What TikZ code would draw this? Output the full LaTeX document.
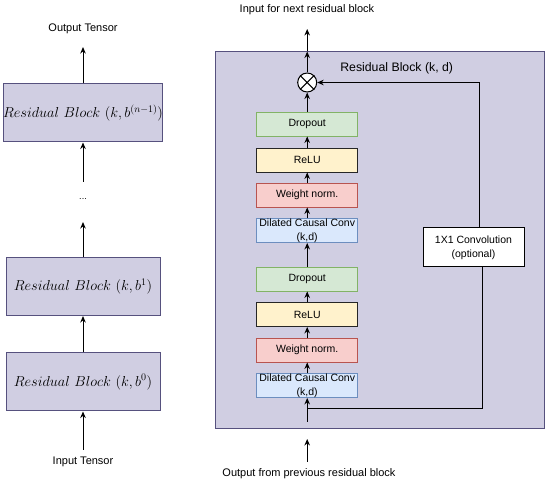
\documentclass[tikz,border=0pt]{standalone}
\usepackage{fontspec}
\newfontfamily\helv{Liberation Sans}
\usetikzlibrary{arrows.meta}

\definecolor{blockfill}{HTML}{D0CEE2}
\definecolor{blockline}{HTML}{56517E}
\definecolor{dropfill}{HTML}{D5E8D4}
\definecolor{dropline}{HTML}{82B366}
\definecolor{relufill}{HTML}{FFF2CC}
\definecolor{wnfill}{HTML}{F8CECC}
\definecolor{wnline}{HTML}{B85450}
\definecolor{convfill}{HTML}{DAE8FC}
\definecolor{convline}{HTML}{6C8EBF}

\tikzset{
  arr/.style={-{Stealth[length=6.5pt,width=5.5pt]},line width=1pt},
  txt/.style={font=\helv\fontsize{11}{13}\selectfont,inner sep=0pt},
  resblock/.style={draw=blockline,fill=blockfill,line width=1pt,minimum width=154pt,minimum height=58pt,inner sep=0pt,font=\fontsize{13.8}{15}\selectfont},
  layer/.style={line width=0.9pt,minimum width=101pt,minimum height=24pt,inner sep=0pt,align=center,font=\helv\fontsize{10.5}{14}\selectfont},
  dropbox/.style={layer,draw=dropline,fill=dropfill},
  relubox/.style={layer,draw=black!85,fill=relufill},
  wnbox/.style={layer,draw=wnline,fill=wnfill},
  convbox/.style={layer,draw=convline,fill=convfill},
}

\begin{document}
\begin{tikzpicture}[x=1pt,y=-1pt]
\useasboundingbox (0,0) rectangle (550,484);

% left: stack of residual blocks
\node[txt] (outT) at (83,29) {Output Tensor};
\node[resblock] (blk2) at (83,113) {$Residual\ Block\ (k, b^{(n-1)})$};
\node[txt,font=\helv\fontsize{9}{10}\selectfont] (dots) at (83,199) {...};
\node[resblock] (blk1) at (83,286.5) {$Residual\ Block\ (k, b^{1})$};
\node[resblock] (blk0) at (83,382) {$Residual\ Block\ (k, b^{0})$};
\node[txt] (inT) at (83,462) {Input Tensor};
\coordinate (outend) at (83,47);
\coordinate (dotsb) at (83,182);
\coordinate (dotst) at (83,222);
\coordinate (instart) at (83,450);

\draw[arr] (blk2) -- (outend);
\draw[arr] (dotsb) -- (blk2);
\draw[arr] (blk1) -- (dotst);
\draw[arr] (blk0) -- (blk1);
\draw[arr] (instart) -- (blk0);

% right: inside one residual block
\node[draw=blockline,fill=blockfill,line width=1pt,minimum width=329pt,minimum height=377pt] (rb) at (380.4,240.5) {};
\node[txt,font=\helv\fontsize{12.3}{14}\selectfont] (rbt) at (396.7,68) {Residual Block (k, d)};
\node[txt] (nxt) at (307,10) {Input for next residual block};
\node[txt] (prv) at (309,474) {Output from previous residual block};

\node[draw,fill=white,circle,minimum size=19pt,inner sep=0pt,line width=1pt] (mul) at (307.2,82.5) {};
\draw[line width=1pt] (mul.north west) -- (mul.south east) (mul.north east) -- (mul.south west);

\node[dropbox] (drop1) at (307.2,124) {Dropout};
\node[relubox] (relu1) at (307.2,160) {ReLU};
\node[wnbox] (wn1) at (307.2,195) {Weight norm.};
\node[convbox] (dil1) at (307.2,230.5) {Dilated Causal Conv\\(k,d)};
\node[dropbox] (drop2) at (307.2,279) {Dropout};
\node[relubox] (relu2) at (307.2,314.5) {ReLU};
\node[wnbox] (wn2) at (307.2,350) {Weight norm.};
\node[convbox] (dil2) at (307.2,385.5) {Dilated Causal Conv\\(k,d)};

\node[draw,fill=white,line width=1pt,minimum width=101pt,minimum height=39pt,inner sep=0pt,align=center,font=\helv\fontsize{10.5}{14}\selectfont] (conv) at (473.5,247.5) {1X1 Convolution\\(optional)};

\coordinate (topend) at (307.2,29);
\coordinate (botstart) at (307.2,462);
\coordinate (botend) at (307.2,439);
\coordinate (inside) at (307.2,422);
\coordinate (split) at (307.2,409);

\draw[arr] (botstart) -- (botend);
\draw[arr] (inside) -- (dil2);
\draw[arr] (dil2) -- (wn2);
\draw[arr] (wn2) -- (relu2);
\draw[arr] (relu2) -- (drop2);
\draw[arr] (drop2) -- (dil1);
\draw[arr] (dil1) -- (wn1);
\draw[arr] (wn1) -- (relu1);
\draw[arr] (relu1) -- (drop1);
\draw[arr] (drop1) -- (mul);
\draw[arr] (mul) -- (mul |- rb.north);
\draw[arr] (mul |- rb.north) -- (topend);
\draw[line width=1pt] (split) -| ([xshift=8.5pt]conv.south);
\draw[arr] ([xshift=5.5pt]conv.north) |- (mul.east);
\end{tikzpicture}
\end{document}
